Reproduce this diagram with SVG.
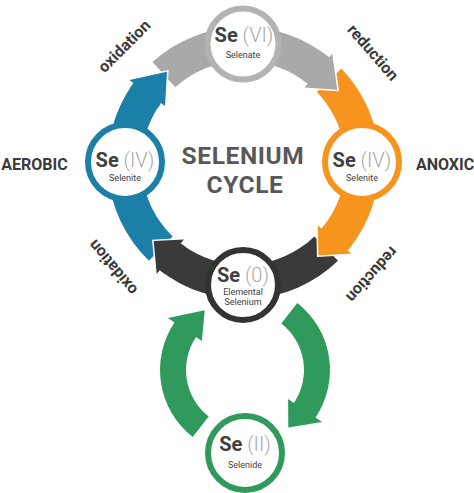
<svg xmlns="http://www.w3.org/2000/svg" width="474" height="493" viewBox="0 0 474 493">
<style>
text{font-family:Roboto,"Liberation Sans",sans-serif}
.se{font-size:20px;font-weight:700;fill:#404040}
.ox{font-size:20px;font-weight:300;fill:#a8a8a8}
.sub{font-size:9px;fill:#404040;text-anchor:middle}
.lbl{font-size:16px;font-weight:700;fill:#3a3a3a;text-anchor:middle}
.title{font-size:24.5px;font-weight:700;fill:#585858;text-anchor:middle;letter-spacing:0.6px}
.ring{fill:#fff;stroke-width:6}
.cut{fill:none;stroke:#fff;stroke-width:3;stroke-linejoin:miter}
.gray{fill:#a9a9a9}.orange{fill:#f7941d}.dark{fill:#3a3a3a}.blue{fill:#1b7fa8}.green{fill:#2f9a5c}
</style>
<rect width="474" height="493" fill="#fff"/>
<g id="connectors">
  <path class="gray" d="M152.5,61.9 A136,136 0 0 1 329.1,57.3 L307.7,83.7 A102,102 0 0 0 175.3,87.2 Z"/>
  <path class="orange" d="M341.3,68.5 A136,136 0 0 1 347.7,250.4 L321.6,228.6 A102,102 0 0 0 316.9,92.1 Z"/>
  <path class="dark" d="M338.0,260.8 A136,136 0 0 1 159.8,270.2 L180.7,243.4 A102,102 0 0 0 314.4,236.4 Z"/>
  <path class="blue" d="M149.0,260.8 A136,136 0 0 1 133.5,83.1 L161.0,103.0 A102,102 0 0 0 172.6,236.4 Z"/>
  <path class="cut" d="M332.2,53.4 L337.3,89.7 L304.5,87.6 Z"/>
  <path class="cut" d="M351.5,253.6 L318.4,255.5 L317.8,225.4 Z"/>
  <path class="cut" d="M156.7,274.1 L153.7,241.1 L183.8,239.4 Z"/>
  <path class="cut" d="M129.4,80.1 L167.0,71.8 L165.0,106.0 Z"/>
  <path class="gray" d="M323.4,53.0 L329.1,57.3 L332.2,53.4 L337.3,89.7 L304.5,87.6 L307.7,83.7 L303.5,80.5 Z"/>
  <path class="orange" d="M352.1,244.8 L347.7,250.4 L351.5,253.6 L318.4,255.5 L317.8,225.4 L321.6,228.6 L325.0,224.4 Z"/>
  <path class="dark" d="M165.5,274.4 L159.8,270.2 L156.7,274.1 L153.7,241.1 L183.8,239.4 L180.7,243.4 L185.0,246.6 Z"/>
  <path class="blue" d="M129.4,88.9 L133.5,83.1 L129.4,80.1 L167.0,71.8 L165.0,106.0 L161.0,103.0 L158.0,107.5 Z"/>
  <path class="green" d="M192.7,437.0 A85,85 0 0 1 174.5,322.5 L167.9,318.0 L204.7,310.3 L201.9,340.9 L196.1,337.0 A59,59 0 0 0 208.7,416.5 Z"/>
  <path class="green" d="M297.3,303.0 A85,85 0 0 1 315.5,417.5 L322.1,422.0 L288.3,427.5 L288.1,399.1 L293.9,403.0 A59,59 0 0 0 281.3,323.5 Z"/>
</g>
<g id="node-se6">
  <circle class="ring" cx="243" cy="44" r="35.5" stroke="#b3b3b3"/>
  <text x="244" y="42" text-anchor="middle"><tspan class="se">Se</tspan><tspan class="ox"> (VI)</tspan></text>
  <text class="sub" x="243" y="58">Selenate</text>
</g>
<g id="node-se4-aerobic">
  <circle class="ring" cx="125" cy="162" r="37" stroke="#1b7fa8" stroke-width="7"/>
  <text x="125" y="167" text-anchor="middle"><tspan class="se">Se</tspan><tspan class="ox"> (IV)</tspan></text>
  <text class="sub" x="125" y="181">Selenite</text>
</g>
<g id="node-se4-anoxic">
  <circle class="ring" cx="362" cy="162" r="37" stroke="#f7941d" stroke-width="7"/>
  <text x="362" y="167" text-anchor="middle"><tspan class="se">Se</tspan><tspan class="ox"> (IV)</tspan></text>
  <text class="sub" x="362" y="181">Selenite</text>
</g>
<g id="node-se0">
  <circle class="ring" cx="243" cy="285" r="35" stroke="#333333"/>
  <text x="243" y="282" text-anchor="middle"><tspan class="se">Se</tspan><tspan class="ox"> (0)</tspan></text>
  <text class="sub" x="243" y="295">Elemental</text>
  <text class="sub" x="243" y="305">Selenium</text>
</g>
<g id="node-se2">
  <circle class="ring" cx="245" cy="453" r="37" stroke="#2f9a5c"/>
  <text x="245" y="451" text-anchor="middle"><tspan class="se">Se</tspan><tspan class="ox"> (II)</tspan></text>
  <text class="sub" x="245" y="468">Selenide</text>
</g>
<g id="labels">
  <text class="title" x="243" y="164">SELENIUM</text>
  <text class="title" x="245" y="193">CYCLE</text>
  <text class="lbl" x="34.5" y="170">AEROBIC</text>
  <text class="lbl" x="445" y="170">ANOXIC</text>
  <text class="lbl" transform="translate(128,50) rotate(-45)">oxidation</text>
  <text class="lbl" transform="translate(369,56) rotate(49)">reduction</text>
  <text class="lbl" transform="translate(117,264) rotate(-130)">oxidation</text>
  <text class="lbl" transform="translate(368,271) rotate(132)">reduction</text>
</g>
</svg>
